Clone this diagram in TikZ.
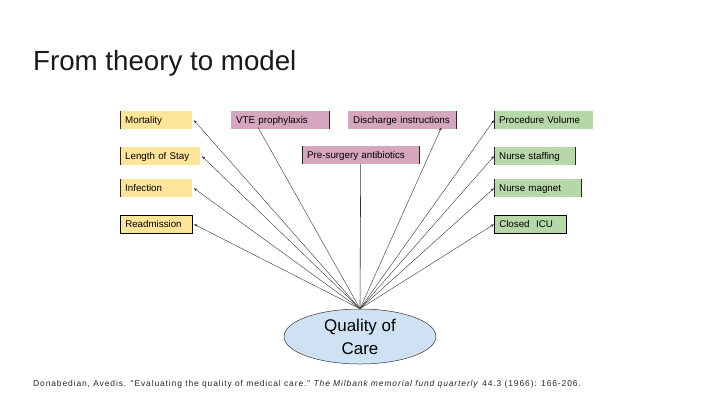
\documentclass[tikz,border=0pt]{standalone}
\usepackage{fontspec}
\setmainfont{Liberation Sans}
\newfontfamily\citefont[LetterSpace=10.5]{Liberation Sans}
\usetikzlibrary{shapes.geometric,arrows.meta}
\definecolor{cyel}{HTML}{FFE599}
\definecolor{cpink}{HTML}{D5A6BD}
\definecolor{cgreen}{HTML}{B6D7A8}
\definecolor{cblue}{HTML}{CFE2F3}
\tikzset{
  box/.style={anchor=north west, inner xsep=5bp, inner ysep=0pt, minimum height=18bp,
    text height=7.2bp, text depth=1.6bp, align=left, font=\fontsize{9.8}{11}\selectfont},
  ybox/.style={box, fill=cyel},
  pbox/.style={box, fill=cpink},
  gbox/.style={box, fill=cgreen},
  edge/.style={line width=0.5pt, draw=black!85},
  conn/.style={line width=0.4pt, draw=black!80, -{Stealth[length=3.5bp,width=2.6bp]}},
  plainconn/.style={line width=0.4pt, draw=black!80},
}
\begin{document}
\begin{tikzpicture}[x=1bp,y=-1bp]
\useasboundingbox (0,0) rectangle (720,405);
\node[anchor=base west, font=\fontsize{27.8}{30}\selectfont, text=black!90, inner sep=0] (title) at (33,70) {From theory to model};

\node[ybox, text width=62bp] (mort) at (120,111) {Mortality};
\node[ybox, text width=70bp] (los) at (120,147) {Length of Stay};
\node[ybox, text width=62bp] (inf) at (120,179) {Infection};
\node[ybox, text width=62bp, draw=black, line width=0.5pt] (readm) at (120,215) {Readmission};

\node[pbox, text width=88bp] (vte) at (231,111) {VTE prophylaxis};
\node[pbox, text width=98bp] (dis) at (348,111) {Discharge instructions};
\node[pbox, text width=107bp] (pre) at (302,146) {Pre-surgery antibiotics};

\node[gbox, text width=89bp] (proc) at (494,111) {Procedure Volume};
\node[gbox, text width=71bp] (nstaff) at (494,147) {Nurse staffing};
\node[gbox, text width=77bp] (nmag) at (494,179) {Nurse magnet};
\node[gbox, text width=62bp, draw=black, line width=0.5pt] (icu) at (494,215) {Closed\ \ ICU};

\draw[edge] (mort.north west) -- (mort.south west);
\draw[edge] (los.north west) -- (los.south west);
\draw[edge] (inf.north west) -- (inf.south west);
\draw[edge] (vte.north east) -- (vte.south east);
\draw[edge] (dis.north east) -- (dis.south east);
\draw[edge] (pre.north west) -- (pre.south west);
\draw[edge] (pre.north east) -- (pre.south east);
\draw[edge] (proc.north west) -- (proc.south west);
\draw[edge] (nstaff.north west) -- (nstaff.south west);
\draw[edge] (nstaff.north east) -- (nstaff.south east);
\draw[edge] (nmag.north west) -- (nmag.south west);
\draw[edge] (nmag.north east) -- (nmag.south east);

\node[ellipse, fill=cblue, draw=black!80, line width=0.5pt, minimum width=152bp, minimum height=55bp,
  inner sep=0pt, align=center, font=\fontsize{17}{23}\selectfont] (qoc) at (360,336.5) {Quality of\\Care};

\coordinate (apex) at (qoc.north);
\draw[conn] (apex) -- ([xshift=1.5bp]mort.east);
\draw[conn] (apex) -- ([xshift=1.5bp]los.east);
\draw[conn] (apex) -- ([xshift=1.5bp]inf.east);
\draw[conn] (apex) -- ([xshift=1.5bp]readm.east);
\draw[plainconn] (apex) -- ([xshift=27bp,yshift=2bp]vte.south west);
\draw[conn] (apex) -- ([xshift=-15bp,yshift=2bp]dis.south east);
\draw[plainconn, line width=0.6pt] (apex) -- (pre.south);
\draw[conn] (apex) -- (proc.west);
\draw[conn] (apex) -- (nstaff.west);
\draw[conn] (apex) -- (nmag.west);
\draw[conn] (apex) -- (icu.west);

\node[anchor=base west, inner sep=0, font=\citefont\fontsize{8.5}{10}\selectfont, text=black!85] (cite) at (33,386)
  {Donabedian, Avedis. "Evaluating the quality of medical care." \textit{The Milbank memorial fund quarterly} 44.3 (1966): 166-206.};
\end{tikzpicture}
\end{document}
